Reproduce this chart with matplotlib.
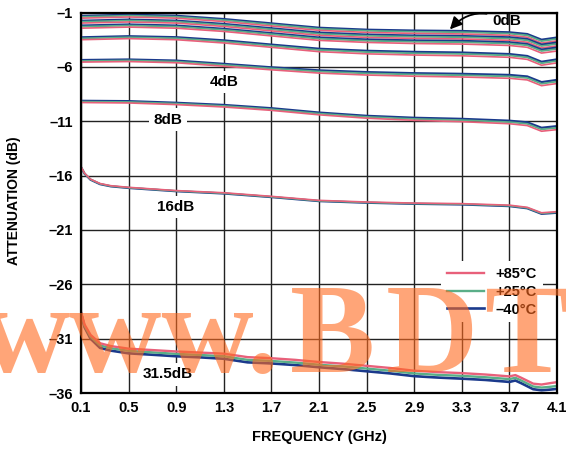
import matplotlib
matplotlib.use("Agg")
import matplotlib.pyplot as plt

plt.rcParams['font.family'] = ['Liberation Sans', 'DejaVu Sans']
plt.rcParams['font.weight'] = 'bold'

# frequency points (GHz)
freq = [0.1, 0.5, 0.9, 1.3, 1.7, 2.1, 2.5, 2.9, 3.3, 3.7, 3.85, 3.97, 4.1]
freq_hi = [0.1, 0.13, 0.18, 0.26, 0.35, 0.5, 0.9, 1.3, 1.7, 2.1, 2.5, 2.9, 3.3, 3.7, 3.85, 3.97, 4.1]
freq_31 = [0.1, 0.13, 0.18, 0.26, 0.35, 0.5, 0.7, 0.9, 1.1, 1.3, 1.5, 1.7, 1.9, 2.1, 2.3,
           2.5, 2.7, 2.9, 3.1, 3.3, 3.5, 3.7, 3.75, 3.8, 3.9, 3.97, 4.05, 4.1]

# attenuation (dB) per state: 0, 0.5, 1, 2, 4, 8 dB
att_m40 = [
    [-1.32, -1.20, -1.30, -1.60, -2.00, -2.40, -2.58, -2.66, -2.70, -2.82, -2.98, -3.50, -3.30],
    [-1.76, -1.65, -1.75, -2.05, -2.45, -2.85, -3.03, -3.12, -3.16, -3.28, -3.44, -3.95, -3.76],
    [-2.20, -2.10, -2.20, -2.50, -2.90, -3.30, -3.48, -3.57, -3.61, -3.74, -3.90, -4.41, -4.22],
    [-3.28, -3.18, -3.27, -3.56, -3.95, -4.33, -4.52, -4.62, -4.68, -4.82, -5.00, -5.53, -5.31],
    [-5.37, -5.32, -5.42, -5.72, -6.04, -6.32, -6.48, -6.58, -6.64, -6.74, -6.88, -7.40, -7.20],
    [-9.12, -9.15, -9.30, -9.50, -9.80, -10.20, -10.50, -10.68, -10.78, -10.95, -11.10, -11.60, -11.45],
]
att_p25 = [
    [-1.40, -1.29, -1.39, -1.70, -2.10, -2.50, -2.68, -2.77, -2.81, -2.94, -3.10, -3.63, -3.43],
    [-1.85, -1.74, -1.84, -2.15, -2.55, -2.96, -3.14, -3.23, -3.27, -3.40, -3.56, -4.08, -3.89],
    [-2.30, -2.20, -2.30, -2.60, -3.00, -3.41, -3.60, -3.69, -3.73, -3.86, -4.02, -4.54, -4.35],
    [-3.38, -3.28, -3.37, -3.67, -4.06, -4.45, -4.64, -4.75, -4.81, -4.95, -5.13, -5.67, -5.45],
    [-5.46, -5.41, -5.51, -5.82, -6.14, -6.43, -6.60, -6.70, -6.77, -6.88, -7.02, -7.55, -7.35],
    [-9.20, -9.23, -9.38, -9.59, -9.90, -10.30, -10.60, -10.79, -10.90, -11.08, -11.24, -11.75, -11.60],
]
att_p85 = [
    [-1.52, -1.41, -1.52, -1.83, -2.24, -2.64, -2.83, -2.92, -2.97, -3.10, -3.27, -3.81, -3.61],
    [-1.97, -1.87, -1.97, -2.28, -2.69, -3.10, -3.29, -3.38, -3.43, -3.56, -3.73, -4.26, -4.07],
    [-2.44, -2.34, -2.44, -2.74, -3.15, -3.56, -3.75, -3.85, -3.90, -4.03, -4.20, -4.73, -4.54],
    [-3.50, -3.40, -3.50, -3.80, -4.20, -4.60, -4.80, -4.91, -4.98, -5.12, -5.31, -5.85, -5.63],
    [-5.56, -5.51, -5.62, -5.94, -6.27, -6.57, -6.75, -6.86, -6.93, -7.05, -7.20, -7.73, -7.53],
    [-9.28, -9.32, -9.47, -9.69, -10.00, -10.41, -10.72, -10.92, -11.04, -11.23, -11.40, -11.92, -11.77],
]

# 16 dB state
att16_m40 = [-15.22, -15.83, -16.38, -16.79, -16.99, -17.14, -17.44, -17.65, -17.98, -18.35,
             -18.50, -18.60, -18.66, -18.81, -19.01, -19.52, -19.42]
att16_p25 = [-15.20, -15.80, -16.35, -16.76, -16.96, -17.11, -17.41, -17.62, -17.95, -18.32,
             -18.47, -18.57, -18.62, -18.77, -18.97, -19.47, -19.37]
att16_p85 = [-15.18, -15.78, -16.33, -16.73, -16.93, -17.08, -17.38, -17.58, -17.91, -18.28,
             -18.43, -18.53, -18.58, -18.72, -18.92, -19.42, -19.32]

# 31.5 dB state
att31_m40 = [-28.65, -29.95, -31.00, -31.85, -32.10, -32.35, -32.48, -32.62, -32.72, -32.85,
             -33.18, -33.28, -33.43, -33.63, -33.80, -34.00, -34.20, -34.45, -34.58, -34.68,
             -34.80, -34.98, -34.85, -35.10, -35.65, -35.75, -35.68, -35.62]
att31_p25 = [-28.60, -29.82, -30.82, -31.62, -31.88, -32.12, -32.26, -32.40, -32.50, -32.62,
             -32.95, -33.05, -33.20, -33.40, -33.55, -33.75, -33.95, -34.20, -34.33, -34.42,
             -34.55, -34.72, -34.60, -34.85, -35.40, -35.50, -35.42, -35.35]
att31_p85 = [-28.55, -29.70, -30.65, -31.42, -31.68, -31.92, -32.05, -32.18, -32.28, -32.38,
             -32.70, -32.80, -32.95, -33.15, -33.30, -33.50, -33.70, -33.95, -34.08, -34.17,
             -34.30, -34.47, -34.35, -34.60, -35.14, -35.22, -35.08, -35.00]

xticks = [0.1, 0.5, 0.9, 1.3, 1.7, 2.1, 2.5, 2.9, 3.3, 3.7, 4.1]
yticks = [-1, -6, -11, -16, -21, -26, -31, -36]

c85 = '#e8607a'
c25 = '#5aae88'
cm40 = '#1b3a8c'

fig = plt.figure(figsize=(5.66, 4.49), dpi=100)
ax = fig.add_axes([0.1431, 0.1247, 0.841, 0.8474])

for s in range(len(att_m40)):
    ax.plot(freq, att_m40[s], color=cm40, lw=1.6)
    ax.plot(freq, att_p25[s], color=c25, lw=1.3)
    ax.plot(freq, att_p85[s], color=c85, lw=1.2)

ax.plot(freq_hi, att16_m40, color=cm40, lw=1.6)
ax.plot(freq_hi, att16_p25, color=c25, lw=1.3)
ax.plot(freq_hi, att16_p85, color=c85, lw=1.2)

ax.plot(freq_31, att31_m40, color=cm40, lw=1.9, label='\u201340\u00b0C')
ax.plot(freq_31, att31_p25, color=c25, lw=1.7, label='+25\u00b0C')
ax.plot(freq_31, att31_p85, color=c85, lw=1.7, label='+85\u00b0C')

ax.set_xlim(0.1, 4.1)
ax.set_ylim(-36, -1)
ax.set_xticks(xticks)
ax.set_xticklabels(['%.1f' % v for v in xticks], fontsize=10.5, fontweight='bold')
ax.set_yticks(yticks)
ax.set_yticklabels(['\u2013%d' % abs(v) for v in yticks], fontsize=10.5, fontweight='bold')
ax.tick_params(length=0, pad=6)
ax.grid(True, color='#222222', lw=1.0)
ax.set_axisbelow(True)
for sp in ax.spines.values():
    sp.set_linewidth(1.6)

box = dict(facecolor='white', edgecolor='none', pad=3)
ax.text(1.306, -7.4, '4dB', ha='center', va='center', fontsize=11, fontweight='bold', bbox=box)
ax.text(0.831, -10.85, '8dB', ha='center', va='center', fontsize=11, fontweight='bold', bbox=box)
ax.text(0.898, -18.9, '16dB', ha='center', va='center', fontsize=11, fontweight='bold', bbox=box)
ax.text(0.827, -34.29, '31.5dB', ha='center', va='center', fontsize=11, fontweight='bold', bbox=box)
ax.annotate('0dB', xy=(3.2, -2.55), xytext=(3.555, -1.78), ha='left', va='center',
            fontsize=11, fontweight='bold',
            arrowprops=dict(arrowstyle='-|>', color='black', lw=1.3, shrinkA=2, shrinkB=0,
                            connectionstyle='arc3,rad=0.4', mutation_scale=18))

h, l = ax.get_legend_handles_labels()
leg = ax.legend(h[::-1], l[::-1], loc='upper right', bbox_to_anchor=(0.985, 0.365),
                fontsize=10.5, frameon=True, fancybox=False, framealpha=1,
                edgecolor='none', handlelength=2.5, handletextpad=0.8,
                labelspacing=0.25, borderpad=0.4)

fig.text(0.025, 0.5535, 'ATTENUATION (dB)', rotation=90, ha='center', va='center',
         fontsize=10, fontweight='bold')
fig.text(0.5636, 0.027, 'FREQUENCY (GHz)', ha='center', va='center',
         fontsize=10.5, fontweight='bold')

# watermark, laid out piece by piece to follow the original spacing
wm = dict(fontsize=92, family='Liberation Serif', fontweight='bold', color='#ff6a1f',
          alpha=0.6, ha='left', va='baseline')
fig.text(-22 / 566, 0.172, 'www.', **wm)
fig.text(290 / 566, 0.172, 'B', **wm)
fig.text(386 / 566, 0.172, 'D', **wm)
fig.text(484 / 566, 0.172, 'TIC.com', **wm)

fig.savefig('out.png', dpi=100)
